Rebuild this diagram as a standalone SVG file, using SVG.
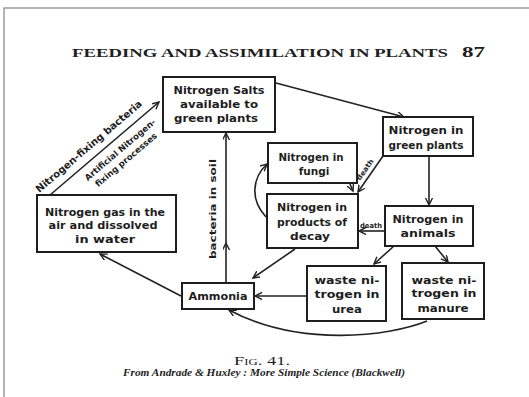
<svg xmlns="http://www.w3.org/2000/svg" width="529" height="397" viewBox="0 0 529 397">
<defs>
<style>
.bx{fill:#fff;stroke:#1e1e1e;stroke-width:2}
.t{font-family:"DejaVu Sans","Liberation Sans",sans-serif;font-weight:bold;font-size:10.5px;fill:#1e1e1e;text-anchor:middle}
.s{font-family:"DejaVu Sans","Liberation Sans",sans-serif;font-weight:bold;fill:#1e1e1e;text-anchor:middle}
.c{fill:none;stroke:#222;stroke-width:1.6}
.ser{font-family:"Liberation Serif",serif;fill:#1e1e1e}
</style>
<marker id="a" markerUnits="userSpaceOnUse" markerWidth="10" markerHeight="10" refX="7" refY="3.5" orient="auto">
<path d="M0,0 L7,3.5 L0,7" fill="none" stroke="#222" stroke-width="1.4"/>
</marker>
</defs>
<rect width="529" height="397" fill="#fff"/>
<path d="M4,397 V8 H529" fill="none" stroke="#9a9a9a" stroke-width="1.5"/>

<text class="ser" x="72" y="57" font-size="13" font-weight="bold" textLength="376" lengthAdjust="spacingAndGlyphs">FEEDING AND ASSIMILATION IN PLANTS</text>
<text class="ser" x="462" y="57" font-size="15" font-weight="bold" textLength="23" lengthAdjust="spacingAndGlyphs">87</text>

<g id="connectors">
<path class="c" d="M50,195 L159,102" marker-end="url(#a)"/>
<path class="c" d="M276,83 L404,117" marker-end="url(#a)"/>
<path class="c" d="M429,156 L429,205" marker-end="url(#a)"/>
<path class="c" d="M383,156 L358,192" marker-end="url(#a)"/>
<path class="c" d="M347,177 L353,191" marker-end="url(#a)"/>
<path class="c" d="M385,231 L359,231" marker-end="url(#a)"/>
<path class="c" d="M266,217 C250,200 252,178 267,164" marker-end="url(#a)"/>
<path class="c" d="M394,246 L374,264" marker-end="url(#a)"/>
<path class="c" d="M435,246 L448,262" marker-end="url(#a)"/>
<path class="c" d="M307,296 L255,296" marker-end="url(#a)"/>
<path class="c" d="M295,249 L253,278" marker-end="url(#a)"/>
<path class="c" d="M427,321 C390,336 300,348 229,310" marker-end="url(#a)"/>
<path class="c" d="M181,296 L100,254" marker-end="url(#a)"/>
<path class="c" d="M226,283 L226,243 L226,133" marker-mid="url(#a)" marker-end="url(#a)"/>
<text class="s" font-size="10" transform="translate(91,149) rotate(-40.4)" textLength="136" lengthAdjust="spacingAndGlyphs">Nitrogen-fixing bacteria</text>
<text class="s" font-size="8.5" transform="translate(122,152) rotate(-40.4)" textLength="90" lengthAdjust="spacingAndGlyphs">Artificial Nitrogen-</text>
<text class="s" font-size="8.5" transform="translate(128,162) rotate(-40.4)" textLength="78" lengthAdjust="spacingAndGlyphs">fixing processes</text>
<text class="s" font-size="9.5" transform="translate(216,209) rotate(-90)" textLength="100" lengthAdjust="spacingAndGlyphs">bacteria  in  soil</text>
<text class="s" font-size="7" transform="translate(367,171) rotate(-55)" textLength="24" lengthAdjust="spacingAndGlyphs">death</text>
<text class="s" font-size="7" x="371" y="228" textLength="22" lengthAdjust="spacingAndGlyphs">death</text>
</g>

<g id="salts">
<rect class="bx" x="163" y="77" width="112" height="55"/>
<text class="t" x="219" y="94" textLength="91" lengthAdjust="spacingAndGlyphs">Nitrogen Salts</text>
<text class="t" x="219" y="108" textLength="78" lengthAdjust="spacingAndGlyphs">available to</text>
<text class="t" x="216" y="122" textLength="84" lengthAdjust="spacingAndGlyphs">green plants</text>
</g>

<g id="plants">
<rect class="bx" x="383" y="117" width="90" height="39"/>
<text class="t" x="426" y="134" textLength="75" lengthAdjust="spacingAndGlyphs">Nitrogen in</text>
<text class="t" x="426" y="149" textLength="75" lengthAdjust="spacingAndGlyphs">green plants</text>
</g>

<g id="fungi">
<rect class="bx" x="268" y="143" width="89" height="40"/>
<text class="t" x="311" y="161" textLength="65" lengthAdjust="spacingAndGlyphs">Nitrogen in</text>
<text class="t" x="314" y="175">fungi</text>
</g>

<g id="decay">
<rect class="bx" x="267" y="194" width="91" height="54"/>
<text class="t" x="312" y="211" textLength="70" lengthAdjust="spacingAndGlyphs">Nitrogen in</text>
<text class="t" x="312" y="226" textLength="70" lengthAdjust="spacingAndGlyphs">products of</text>
<text class="t" x="310" y="240" textLength="40" lengthAdjust="spacingAndGlyphs">decay</text>
</g>

<g id="animals">
<rect class="bx" x="385" y="206" width="88" height="40"/>
<text class="t" x="428" y="223" textLength="71" lengthAdjust="spacingAndGlyphs">Nitrogen in</text>
<text class="t" x="428" y="237" textLength="55" lengthAdjust="spacingAndGlyphs">animals</text>
</g>

<g id="urea">
<rect class="bx" x="307" y="266" width="79" height="55"/>
<text class="t" x="347" y="284" textLength="65" lengthAdjust="spacingAndGlyphs">waste ni-</text>
<text class="t" x="347" y="298" textLength="65" lengthAdjust="spacingAndGlyphs">trogen in</text>
<text class="t" x="347" y="313" textLength="30" lengthAdjust="spacingAndGlyphs">urea</text>
</g>

<g id="manure">
<rect class="bx" x="402" y="263" width="82" height="56"/>
<text class="t" x="444" y="284" textLength="65" lengthAdjust="spacingAndGlyphs">waste ni-</text>
<text class="t" x="444" y="297" textLength="65" lengthAdjust="spacingAndGlyphs">trogen in</text>
<text class="t" x="443" y="312" textLength="51" lengthAdjust="spacingAndGlyphs">manure</text>
</g>

<g id="ammonia">
<rect class="bx" x="182" y="283" width="72" height="26"/>
<text class="t" x="218" y="300" textLength="59" lengthAdjust="spacingAndGlyphs">Ammonia</text>
</g>

<g id="gas">
<rect class="bx" x="37" y="195" width="139" height="57"/>
<text class="t" x="105" y="216" textLength="120" lengthAdjust="spacingAndGlyphs">Nitrogen gas in the</text>
<text class="t" x="103" y="229" textLength="109" lengthAdjust="spacingAndGlyphs">air and dissolved</text>
<text class="t" x="105" y="243" textLength="60" lengthAdjust="spacingAndGlyphs">in water</text>
</g>

<text class="ser" x="262" y="365" font-size="13" text-anchor="middle" style="font-variant:small-caps" textLength="56" lengthAdjust="spacingAndGlyphs">Fig. 41.</text>
<text class="ser" x="264" y="376" font-size="9.5" font-weight="bold" font-style="italic" text-anchor="middle" textLength="282" lengthAdjust="spacingAndGlyphs">From Andrade &amp; Huxley : More Simple Science (Blackwell)</text>
</svg>
